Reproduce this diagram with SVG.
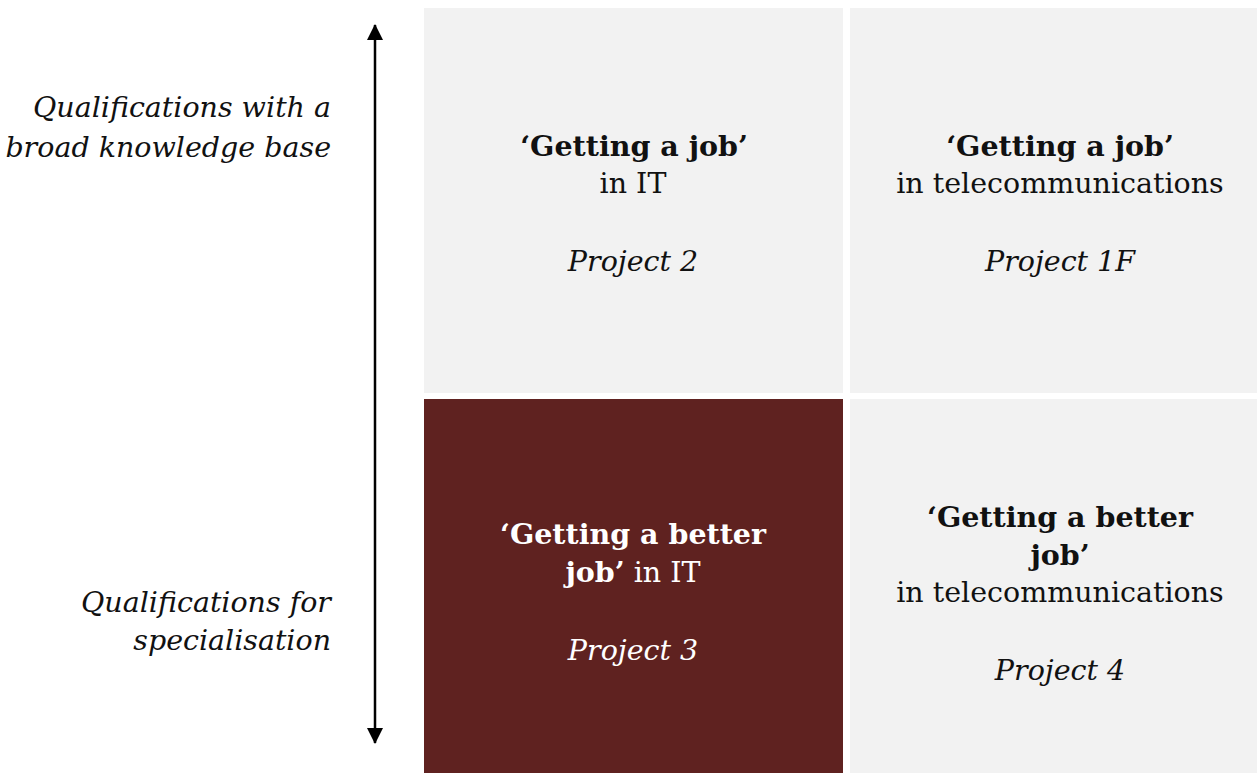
<svg xmlns="http://www.w3.org/2000/svg" width="1257" height="773" viewBox="0 0 1257 773">
<defs>
<style>
text{font-family:"DejaVu Serif","Liberation Serif",serif;font-size:28.5px;fill:#111;}
.c{text-anchor:middle;}
.r{text-anchor:end;font-style:italic;}
.b{font-weight:bold;}
.i{font-style:italic;}
.w{fill:#fff;}
.light{fill:#f2f2f2;}
.dark{fill:#5f2220;}
</style>
<marker id="ah" viewBox="0 0 16 16" refX="15" refY="8" markerWidth="16" markerHeight="16" markerUnits="userSpaceOnUse" orient="auto-start-reverse">
<path d="M0,0 L16,8 L0,16 Z" fill="#000"/>
</marker>
</defs>
<rect width="1257" height="773" fill="#fff"/>
<g id="connectors">
<line x1="375" y1="25" x2="375" y2="743" stroke="#000" stroke-width="2.5" marker-start="url(#ah)" marker-end="url(#ah)"/>
</g>
<g id="axis-labels">
<text class="r" x="331" y="117">Qualifications with a</text>
<text class="r" x="331" y="157">broad knowledge base</text>
<text class="r" x="331" y="612">Qualifications for</text>
<text class="r" x="331" y="650">specialisation</text>
</g>
<g id="project2">
<rect class="light" x="424" y="8" width="419" height="385"/>
<text class="c b" x="634" y="156">‘Getting a job’</text>
<text class="c" x="633" y="193">in IT</text>
<text class="c i" x="633" y="271">Project 2</text>
</g>
<g id="project1f">
<rect class="light" x="850" y="8" width="407" height="385"/>
<text class="c b" x="1060" y="156">‘Getting a job’</text>
<text class="c" x="1060" y="193">in telecommunications</text>
<text class="c i" x="1060" y="271">Project 1F</text>
</g>
<g id="project3">
<rect class="dark" x="424" y="399" width="419" height="374"/>
<text class="c b w" x="633" y="544">‘Getting a better</text>
<text class="c w" x="633" y="582"><tspan class="b w">job’</tspan> in IT</text>
<text class="c i w" x="633" y="660">Project 3</text>
</g>
<g id="project4">
<rect class="light" x="850" y="399" width="407" height="374"/>
<text class="c b" x="1060" y="527">‘Getting a better</text>
<text class="c b" x="1060" y="565">job’</text>
<text class="c" x="1060" y="602">in telecommunications</text>
<text class="c i" x="1060" y="680">Project 4</text>
</g>
</svg>
